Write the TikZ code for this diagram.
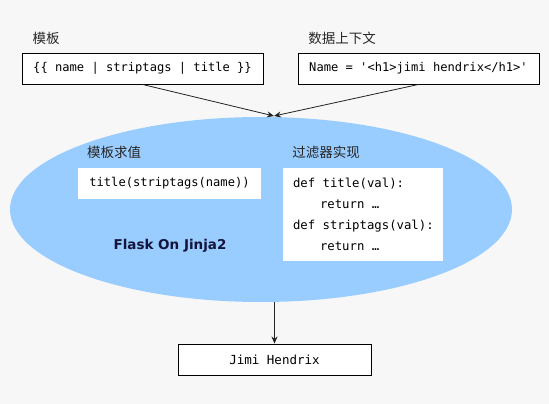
\documentclass[tikz,border=0pt]{standalone}
\usepackage{fontspec}
\setmainfont{DejaVu Sans}
\setmonofont{DejaVu Sans Mono}
\newfontfamily\cjk{Noto Sans CJK SC}
\usetikzlibrary{arrows.meta,shapes.geometric}
\definecolor{bgc}{HTML}{F7F7F7}
\definecolor{ellc}{HTML}{99CCFF}
\definecolor{navy}{HTML}{14143C}
\definecolor{arr}{HTML}{222222}
\newcommand\codesp{\hspace*{0.602em}}
\tikzset{
  lbl/.style={font=\cjk\fontsize{13.5}{15}\selectfont, inner sep=0pt, text=black!85},
  codebox/.style={draw=black, line width=0.9pt, fill=white, minimum width=241pt, minimum height=31pt, inner sep=0pt, font=\ttfamily\fontsize{12.1}{14}\selectfont},
  wbox/.style={fill=white, inner sep=0pt, font=\ttfamily\fontsize{12.1}{14}\selectfont},
  conn/.style={draw=arr, line width=0.8pt, -{Stealth[length=7pt,width=6pt]}},
}
\begin{document}
\begin{tikzpicture}[x=1pt,y=-1pt]
\fill[bgc] (0,0) rectangle (549,404);
\useasboundingbox (0,0) rectangle (549,404);
% ellipse
\node[ellipse, fill=ellc, minimum width=502pt, minimum height=185pt, inner sep=0pt] (ell) at (261,209.5) {};
% top labels and boxes
\node[lbl] (lab1) at (46,38) {模板};
\node[codebox] (tpl) at (142.5,68.5) {\{\{ name | striptags | title \}\}};
\node[lbl] (lab2) at (342,38) {数据上下文};
\node[codebox] (ctx) at (418.5,68.5) {Name = \char"27<h1>jimi hendrix</h1>\char"27};
\coordinate (conv) at (274,116);
\draw[conn] (tpl.south) -- (conv);
\draw[conn] (ctx.south) -- (conv);
% inside ellipse
\node[lbl] (lab3) at (114,152) {模板求值};
\node[wbox, minimum width=183pt, minimum height=31pt] (eval) at (169.5,183.5) {title(striptags(name))};
\node[lbl] (lab4) at (326,152) {过滤器实现};
\node[wbox, minimum width=160pt, minimum height=93pt, text width=140pt, align=left, font=\ttfamily\fontsize{12.3}{21}\selectfont] (impl) at (363,214.5)
  {def\codesp title(val):\\\hspace*{27pt}return\codesp …\\def\codesp striptags(val):\\\hspace*{27pt}return\codesp …};
\node[font=\bfseries\fontsize{13.5}{15}\selectfont, text=navy, inner sep=0pt] (flask) at (170,246) {Flask On Jinja2};
% result
\node[codebox, minimum width=193pt, font=\ttfamily\fontsize{12.5}{14}\selectfont] (res) at (274.5,359.5) {Jimi Hendrix};
\draw[conn] (res.north |- ell.south) -- (res.north);
\end{tikzpicture}
\end{document}
